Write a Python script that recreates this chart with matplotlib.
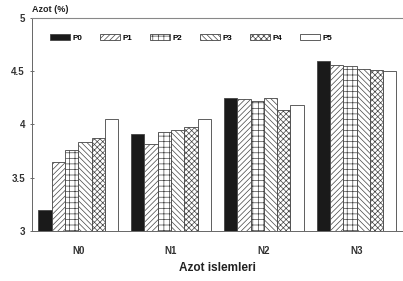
import matplotlib
matplotlib.use("Agg")
import matplotlib.pyplot as plt
import numpy as np
from matplotlib.patches import Patch

plt.rcParams['font.family'] = ['Liberation Sans', 'DejaVu Sans']
plt.rcParams['hatch.linewidth'] = 0.5

groups = ['N0', 'N1', 'N2', 'N3']
series = ['P0', 'P1', 'P2', 'P3', 'P4', 'P5']
P0 = [3.20, 3.91, 4.25, 4.60]
P1 = [3.65, 3.82, 4.24, 4.56]
P2 = [3.76, 3.93, 4.22, 4.55]
P3 = [3.84, 3.95, 4.25, 4.52]
P4 = [3.87, 3.98, 4.14, 4.51]
P5 = [4.05, 4.05, 4.18, 4.50]
values = [P0, P1, P2, P3, P4, P5]
yticks = [3, 3.5, 4, 4.5, 5]
ytick_labels = ['3', '3.5', '4', '4.5', '5']

colors = ['#1a1a1a', 'white', 'white', 'white', 'white', 'white']
hatches = ['', '//////', '+++', '\\\\\\\\\\\\', 'xxxxxx', '']

fig = plt.figure(figsize=(4.03, 2.81), dpi=100)
ax = fig.add_axes([0.079, 0.178, 0.921, 0.758])

x = np.arange(len(groups))
w = 0.143
for i, vals in enumerate(values):
    ax.bar(x + (i - 2.5) * w, np.array(vals) - 3, width=w, bottom=3,
           color=colors[i], hatch=hatches[i], edgecolor='#444444', linewidth=0.6)

ax.set_xlim(-0.5, 3.5)
ax.set_ylim(3, 5)
ax.set_yticks(yticks)
ax.set_yticklabels(ytick_labels, fontsize=7, fontweight='bold', color='#333333')
ax.set_xticks(x)
ax.set_xticklabels(groups, fontsize=7, fontweight='bold', color='#333333')
ax.tick_params(axis='x', length=0, pad=11)
ax.tick_params(axis='y', length=3, direction='inout', width=0.6, color='#555555')
ax.spines['right'].set_visible(False)
ax.spines['top'].set_color('#888888')
ax.spines['top'].set_linewidth(0.8)
ax.spines['left'].set_color('#666666')
ax.spines['left'].set_linewidth(0.7)
ax.spines['bottom'].set_color('#666666')
ax.spines['bottom'].set_linewidth(0.7)
ax.set_xlabel('Azot islemleri', fontsize=8.5, fontweight='bold', color='#222222', labelpad=4)
fig.text(0.079, 0.965, 'Azot (%)', fontsize=6.5, fontweight='bold', color='#222222',
         ha='left', va='center')

handles = [Patch(facecolor=colors[i], hatch=hatches[i], edgecolor='#444444', linewidth=0.6)
           for i in range(len(series))]
ax.legend(handles, series, loc='upper left', bbox_to_anchor=(0.03, 0.96), ncol=6,
          frameon=False, handlelength=2.4, handleheight=0.9,
          columnspacing=2.2, handletextpad=0.4, prop={'weight': 'bold', 'size': 5.8})

fig.savefig('out.png', dpi=100)
